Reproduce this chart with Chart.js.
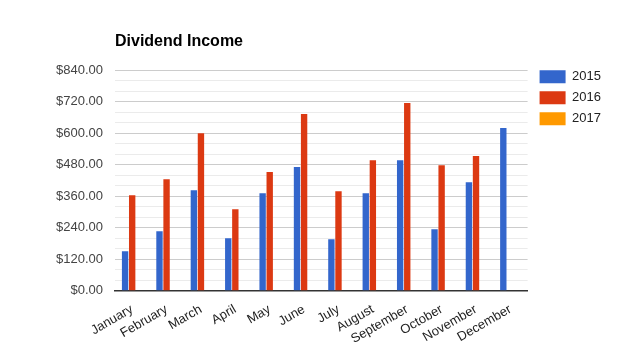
<!DOCTYPE html>
<html>

<head>
    <meta charset="utf-8">
    <title>Dividend Income</title>
    <script src="https://cdn.jsdelivr.net/npm/chart.js"></script>
    <style>
        body { margin: 0; background: #fff; }
    </style>
</head>

<body>
    <canvas id="myChart" width="641" height="358"></canvas>
    <script>
    // 資料
    var months = ['January', 'February', 'March', 'April', 'May', 'June',
        'July', 'August', 'September', 'October', 'November', 'December'];
    var income2015 = [150, 226, 383, 200, 371, 471, 196, 371, 497, 234, 413, 620];
    var income2016 = [364, 425, 600, 310, 452, 673, 379, 497, 715, 478, 513, null];
    var income2017 = [null, null, null, null, null, null, null, null, null, null, null, null];
    var majorTicks = [0, 120, 240, 360, 480, 600, 720, 840];

    var font = "Arial, 'Liberation Sans', sans-serif";

    // 圖例對齊繪圖區頂端
    var legendTop = {
        id: 'legendTop',
        afterLayout: function (chart) {
            var lg = chart.legend;
            var shift = lg.top - (chart.chartArea.top - 8);
            lg.top -= shift;
            lg.bottom -= shift;
            lg.left += 4;
            lg.right += 4;
        }
    };

    var ctx = document.getElementById('myChart').getContext('2d');
    var myChart = new Chart(ctx, {
        type: 'bar',
        data: {
            labels: months,
            datasets: [{
                label: '2015',
                data: income2015,
                backgroundColor: '#3366cc'
            }, {
                label: '2016',
                data: income2016,
                backgroundColor: '#dc3912'
            }, {
                label: '2017',
                data: income2017,
                backgroundColor: '#ff9900'
            }]
        },
        plugins: [legendTop],
        options: {
            responsive: false,
            animation: false,
            categoryPercentage: 0.618,
            barPercentage: 0.9,
            layout: {
                padding: { left: 44, right: 34, top: 32, bottom: 8 }
            },
            plugins: {
                title: {
                    display: true,
                    text: 'Dividend Income',
                    align: 'start',
                    fullSize: false,
                    color: '#000',
                    font: { family: font, size: 16, weight: 'bold' },
                    padding: { top: 0, bottom: 19 }
                },
                legend: {
                    position: 'right',
                    align: 'start',
                    fullSize: false,
                    labels: {
                        boxWidth: 26,
                        boxHeight: 13,
                        padding: 8,
                        color: '#222',
                        font: { family: font, size: 13 }
                    }
                },
                tooltip: { enabled: false }
            },
            scales: {
                x: {
                    grid: { display: false },
                    border: { color: '#333', width: 1.5 },
                    ticks: {
                        autoSkip: false,
                        maxRotation: 30,
                        minRotation: 30,
                        color: '#222',
                        font: { family: font, size: 13 }
                    }
                },
                y: {
                    min: 0,
                    max: 840,
                    border: { display: false },
                    grid: {
                        drawTicks: false,
                        color: function (c) {
                            return majorTicks.indexOf(c.tick.value) >= 0 ? '#cccccc' : '#ebebeb';
                        }
                    },
                    ticks: {
                        autoSkip: false,
                        stepSize: 40,
                        padding: 12,
                        color: '#444',
                        font: { family: font, size: 13 },
                        callback: function (v) {
                            return majorTicks.indexOf(v) >= 0 ? '$' + v.toFixed(2) : '';
                        }
                    }
                }
            }
        }
    });
    </script>
</body>

</html>
